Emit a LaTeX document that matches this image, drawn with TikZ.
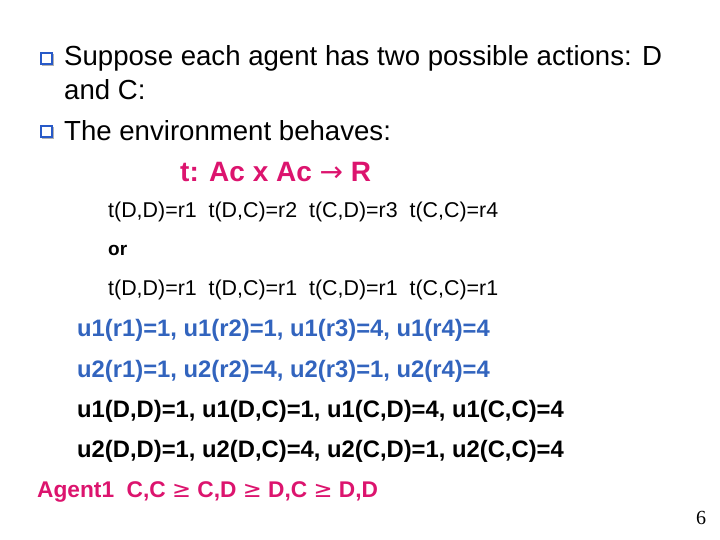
\documentclass[tikz,border=0pt]{standalone}
\usepackage{fontspec}
\setmainfont{Liberation Sans}
\newfontfamily\serifz{Liberation Serif}
\newfontfamily\dejavu{DejaVu Sans}
\definecolor{mag}{RGB}{220,20,110}
\definecolor{ublue}{RGB}{50,100,190}
\definecolor{bul}{RGB}{40,90,200}
\begin{document}
\begin{tikzpicture}[x=1pt,y=-1pt,
  txt/.style={anchor=west,inner sep=0pt,font=\fontsize{27.6}{30}\selectfont},
  tline/.style={anchor=west,inner sep=0pt,font=\fontsize{21.4}{24}\selectfont},
  uline/.style={anchor=west,inner sep=0pt,text=ublue,font=\bfseries\fontsize{23.8}{26}\selectfont},
  bulletbox/.style={draw=bul,line width=1.6pt,minimum size=11pt,inner sep=0pt}]
\useasboundingbox (0,0) rectangle (720,540);
\fill[gray!60] (42,54) rectangle (54,66);
\node[bulletbox,fill=white] (b1) at (46.5,58.5) {};
\node[txt] (l1) at (64,58) {Suppose each agent has two possible actions: D};
\node[txt] (l2) at (64,90) {and C:};
\fill[gray!60] (42,127) rectangle (54,139);
\node[bulletbox,fill=white] (b2) at (46.5,131.5) {};
\node[txt] (l3) at (64,131) {The environment behaves:};
\node[anchor=west,inner sep=0pt,text=mag,font=\bfseries\fontsize{28}{30}\selectfont] (t) at (180,172) {t: Ac x Ac {\dejavu\mdseries →} R};
\node[tline] (t1) at (108,212) {t(D,D)=r1\ \ t(D,C)=r2\ \ t(C,D)=r3\ \ t(C,C)=r4};
\node[tline,font=\bfseries\fontsize{19}{20}\selectfont] (or) at (108,250) {or};
\node[tline] (t2) at (108,290) {t(D,D)=r1\ \ t(D,C)=r1\ \ t(C,D)=r1\ \ t(C,C)=r1};
\node[uline] (u1) at (77,330) {u1(r1)=1, u1(r2)=1, u1(r3)=4, u1(r4)=4};
\node[uline] (u2) at (77,371) {u2(r1)=1, u2(r2)=4, u2(r3)=1, u2(r4)=4};
\node[uline,text=black] (u3) at (77,411) {u1(D,D)=1, u1(D,C)=1, u1(C,D)=4, u1(C,C)=4};
\node[uline,text=black] (u4) at (77,451) {u2(D,D)=1, u2(D,C)=4, u2(C,D)=1, u2(C,C)=4};
\node[anchor=west,inner sep=0pt,text=mag,font=\bfseries\fontsize{22.7}{25}\selectfont] (ag) at (37,492) {Agent1\ \ C,C {\dejavu\mdseries ≥} C,D {\dejavu\mdseries ≥} D,C {\dejavu\mdseries ≥} D,D};
\node[inner sep=0pt,font=\serifz\fontsize{20}{22}\selectfont] (pg) at (701,518) {6};
\end{tikzpicture}
\end{document}
